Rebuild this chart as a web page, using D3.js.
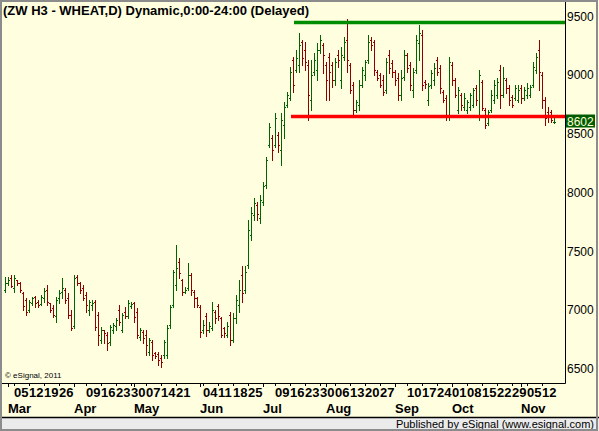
<!DOCTYPE html>
<html>
<head>
<meta charset="utf-8">
<script src="https://cdn.jsdelivr.net/npm/d3@7"></script>
<style>
  body { margin: 0; background: #fff; }
  svg text { font-family: "Liberation Sans", Arial, sans-serif; }
</style>
</head>
<body>
<svg id="chart"></svg>
<script>
// ZW H3 daily bars, Feb 29 .. Nov 16 (one entry per trading day)
const opens = [
  7168, 7228, 7270, 7185, 7253, 7228, 7143, 7083, 6998, 7057,
  7109, 7066, 7049, 7100, 7168, 7057, 7015, 6947, 7100, 7151,
  7168, 7100, 6955, 6862, 7279, 7228, 7185, 7126, 6998, 7040,
  7066, 6955, 6743, 6828, 6785, 6726, 6828, 6862, 6998, 6828,
  6981, 6947, 7032, 7057, 6981, 6768, 6811, 6785, 6640, 6726,
  6632, 6623, 6589, 6615, 6615, 6870, 7040, 7211, 7406, 7253,
  7151, 7185, 7296, 7151, 7100, 7023, 6828, 6947, 6828, 6845,
  6981, 7032, 6930, 6845, 6785, 6955, 6743, 6930, 7040, 7296,
  7168, 7381, 7636, 7806, 7891, 7781, 7917, 8062, 8402, 8462,
  8402, 8487, 8360, 8572, 8742, 8802, 9125, 9040, 9083, 9279,
  9211, 9083, 8785, 9023, 9040, 9211, 9253, 9083, 9151, 9083,
  8955, 9168, 8955, 9151, 9296, 9083, 8913, 8700, 8742, 8913,
  8998, 9125, 9296, 9279, 9023, 8998, 8955, 8870, 9168, 9100,
  9023, 8972, 8828, 8981, 9168, 9083, 8870, 9040, 9270, 9338,
  8938, 8785, 8913, 8955, 9125, 9057, 8853, 8802, 8657, 9083,
  8955, 8700, 8828, 8725, 8700, 8725, 8742, 8887, 8657, 8938,
  8700, 8589, 8700, 8785, 8828, 9040, 8828, 8955, 8887, 8811,
  8802, 8785, 8887, 8802, 8828, 8828, 8913, 9040, 9211, 8998,
  8785, 8683, 8683, 8598
];
const highs = [
  7279, 7279, 7296, 7296, 7253, 7236, 7151, 7100, 7083, 7109,
  7117, 7083, 7126, 7185, 7211, 7057, 7040, 7109, 7168, 7270,
  7185, 7143, 6998, 7296, 7296, 7236, 7211, 7151, 7083, 7083,
  7083, 6981, 6853, 6828, 6811, 6870, 6887, 6930, 7040, 6972,
  7023, 7083, 7066, 7066, 7015, 6845, 6828, 6828, 6760, 6743,
  6640, 6640, 6615, 6743, 6870, 7040, 7338, 7551, 7440, 7262,
  7194, 7398, 7313, 7168, 7109, 7040, 6913, 6972, 6896, 7066,
  6998, 7049, 6938, 6853, 6896, 6981, 6972, 7126, 7253, 7372,
  7372, 7764, 7874, 7951, 7917, 7977, 8087, 8300, 8589, 8487,
  8674, 8513, 8674, 8768, 8853, 9066, 9151, 9211, 9355, 9296,
  9279, 9125, 9125, 9185, 9270, 9338, 9270, 9108, 9185, 9108,
  9142, 9211, 9236, 9321, 9474, 9100, 8938, 8785, 8955, 9066,
  9125, 9338, 9321, 9296, 9040, 9015, 8998, 9142, 9211, 9125,
  9040, 9015, 9040, 9211, 9185, 9108, 9057, 9338, 9423, 9381,
  8955, 8930, 9040, 9100, 9151, 9083, 8870, 8828, 9151, 9108,
  8972, 8896, 8845, 8845, 8785, 8845, 8887, 8913, 9040, 8955,
  8717, 8700, 8870, 8955, 8972, 9083, 9066, 8972, 8913, 8828,
  8913, 8913, 8913, 8896, 8930, 8913, 9108, 9185, 9296, 9023,
  8811, 8725, 8700, 8640
];
const lows = [
  7151, 7211, 7194, 7151, 7211, 7151, 6998, 6955, 6981, 7040,
  7023, 7023, 7040, 7066, 7040, 6981, 6938, 6896, 7057, 7100,
  7057, 6930, 6828, 6845, 7211, 7143, 7083, 6981, 6955, 6998,
  6828, 6700, 6717, 6717, 6657, 6700, 6802, 6828, 6870, 6811,
  6930, 6930, 7015, 6896, 6760, 6743, 6717, 6615, 6615, 6572,
  6589, 6530, 6513, 6589, 6589, 6845, 7023, 7168, 7270, 7126,
  7143, 7168, 7126, 7023, 7023, 6768, 6802, 6777, 6811, 6828,
  6887, 6913, 6768, 6768, 6768, 6700, 6726, 6887, 6981, 7066,
  7143, 7355, 7594, 7764, 7764, 7738, 7891, 8036, 8385, 8274,
  8385, 8343, 8232, 8462, 8725, 8785, 8853, 9023, 9023, 9083,
  9040, 8615, 8700, 8998, 8955, 9185, 9015, 8785, 8785, 8896,
  8913, 9066, 8887, 9125, 9023, 8845, 8657, 8683, 8700, 8896,
  8955, 9100, 9211, 8998, 8955, 8896, 8828, 8845, 9015, 8981,
  8913, 8785, 8785, 8955, 9023, 8870, 8811, 9015, 9125, 8870,
  8887, 8742, 8887, 8913, 8998, 8845, 8768, 8615, 8615, 8913,
  8811, 8674, 8700, 8700, 8674, 8700, 8725, 8742, 8615, 8700,
  8547, 8572, 8683, 8759, 8802, 8717, 8811, 8845, 8742, 8725,
  8785, 8768, 8759, 8785, 8802, 8811, 8896, 9015, 8870, 8717,
  8572, 8598, 8598, 8589
];
const closes = [
  7228, 7253, 7202, 7270, 7228, 7168, 7032, 6981, 7066, 7100,
  7057, 7040, 7109, 7160, 7066, 6998, 6955, 7083, 7143, 7185,
  7083, 6955, 6845, 7270, 7228, 7168, 7100, 7040, 7066, 7057,
  6853, 6785, 6828, 6802, 6717, 6853, 6870, 6913, 6896, 6955,
  6947, 7057, 7049, 6938, 6785, 6828, 6760, 6700, 6743, 6615,
  6606, 6572, 6555, 6726, 6845, 7023, 7321, 7355, 7313, 7151,
  7168, 7296, 7168, 7100, 7040, 6811, 6870, 6828, 6862, 6998,
  6930, 6947, 6785, 6802, 6862, 6743, 6930, 7083, 7168, 7143,
  7321, 7679, 7823, 7908, 7815, 7934, 8053, 8274, 8555, 8360,
  8632, 8402, 8615, 8725, 8828, 9023, 8913, 9142, 9253, 9142,
  9108, 8828, 8998, 9125, 9211, 9296, 9168, 8955, 9023, 8955,
  9108, 9125, 9168, 9279, 9125, 8870, 8700, 8768, 8913, 9040,
  9108, 9279, 9253, 9040, 8972, 8913, 8853, 9108, 9057, 9023,
  8955, 8828, 8972, 9168, 9057, 8913, 9023, 9296, 9355, 8913,
  8921, 8904, 9015, 9057, 9023, 8887, 8785, 8657, 9108, 8955,
  8828, 8870, 8742, 8802, 8768, 8828, 8870, 8785, 8998, 8717,
  8572, 8683, 8828, 8913, 8938, 8828, 8972, 8887, 8785, 8742,
  8887, 8870, 8802, 8870, 8887, 8896, 9066, 9151, 9023, 8785,
  8632, 8657, 8615, 8602
];

// weekly date labels (day of month) and the bar they sit on
const weekLabels = ["05","12","19","26","09","16","23","30","07","14","21",
  "04","11","18","25","09","16","23","30","06","13","20","27",
  "10","17","24","01","08","15","22","29","05","12"];
const weekBars = [3, 8, 13, 18, 27, 32, 37, 42, 47, 52, 57,
  66, 71, 76, 81, 90, 95, 100, 105, 110, 115, 120, 125,
  134, 139, 144, 149, 154, 159, 164, 169, 174, 179];
const months = ["Mar", "Apr", "May", "Jun", "Jul", "Aug", "Sep", "Oct", "Nov"];
const monthBars = [1, 23, 43, 65, 86, 107, 130, 149, 172];

const priceTicks = [9500, 9000, 8500, 8000, 7500, 7000, 6500];
const resistance = 9445, resistanceFrom = 97;
const support = 8645, supportFrom = 96;
const lastPrice = 8602;

const width = 599, height = 431;
const plotRight = 565, axisY = 383;
const green = "#006400", red = "#900000";

const svg = d3.select("#chart").attr("width", width).attr("height", height);

const x = d3.scaleLinear().domain([0, closes.length - 1]).range([5, 554]);
const y = d3.scaleLinear().domain([6500, 9500]).range([368.5, 16]);

svg.append("rect").attr("width", width).attr("height", height).attr("fill", "#ffffe0");
svg.append("rect").attr("x", 0).attr("y", 417).attr("width", width).attr("height", 14).attr("fill", "#ebebeb");
svg.append("line").attr("x1", 0).attr("x2", width).attr("y1", 417.5).attr("y2", 417.5)
  .attr("stroke", "#000").attr("stroke-width", 1.3);

// title
svg.append("text").attr("x", 3).attr("y", 15)
  .attr("font-size", "13px").attr("font-weight", "bold")
  .text("(ZW H3 - WHEAT,D) Dynamic,0:00-24:00 (Delayed)");

// axes frame
svg.append("line").attr("x1", plotRight + 0.5).attr("x2", plotRight + 0.5).attr("y1", 2).attr("y2", axisY + 0.5)
  .attr("stroke", "#000");
svg.append("line").attr("x1", 2).attr("x2", plotRight + 0.5).attr("y1", axisY + 0.5).attr("y2", axisY + 0.5)
  .attr("stroke", "#000");

// price labels
svg.selectAll(".ylab").data(priceTicks).enter().append("text")
  .attr("class", "ylab")
  .attr("x", plotRight + 2).attr("y", d => y(d) + 4.5)
  .attr("font-size", "12px")
  .text(d => d);

// bars
const idx = d3.range(closes.length);
const bars = svg.append("g").attr("shape-rendering", "crispEdges");
const col = i => closes[i] >= opens[i] ? green : red;
const px = i => Math.round(x(i));
bars.selectAll(".hl").data(idx).enter().append("rect")
  .attr("x", i => px(i)).attr("width", 1)
  .attr("y", i => Math.round(y(highs[i])))
  .attr("height", i => Math.round(y(lows[i])) - Math.round(y(highs[i])) + 1)
  .attr("fill", col);
bars.selectAll(".op").data(idx).enter().append("rect")
  .attr("x", i => px(i) - 1).attr("width", 1)
  .attr("y", i => Math.round(y(opens[i]))).attr("height", 1)
  .attr("fill", col);
bars.selectAll(".cl").data(idx).enter().append("rect")
  .attr("x", i => px(i) + 1).attr("width", 1)
  .attr("y", i => Math.round(y(closes[i]))).attr("height", 1)
  .attr("fill", col);

// trend lines
svg.append("line").attr("x1", x(resistanceFrom) - 2).attr("x2", plotRight)
  .attr("y1", y(resistance)).attr("y2", y(resistance))
  .attr("stroke", "#008c00").attr("stroke-width", 3.5);
svg.append("line").attr("x1", x(supportFrom) - 2).attr("x2", plotRight)
  .attr("y1", y(support)).attr("y2", y(support))
  .attr("stroke", "#ff0000").attr("stroke-width", 3.5);

// last price marker
svg.append("rect").attr("x", plotRight + 1).attr("y", y(lastPrice) - 7)
  .attr("width", 29).attr("height", 13).attr("fill", "#005c00");
svg.append("text").attr("x", plotRight + 2).attr("y", y(lastPrice) + 4)
  .attr("font-size", "12px").attr("fill", "#ffffd8")
  .text(lastPrice);

// date axis
svg.selectAll(".wt").data(weekBars).enter().append("line")
  .attr("x1", d => px(d) + 0.5).attr("x2", d => px(d) + 0.5)
  .attr("y1", axisY).attr("y2", axisY + 3).attr("stroke", "#000");
svg.selectAll(".mt").data(monthBars).enter().append("line")
  .attr("x1", d => px(d) + 0.5).attr("x2", d => px(d) + 0.5)
  .attr("y1", axisY).attr("y2", axisY + 4).attr("stroke", "#000");
svg.selectAll(".wl").data(weekLabels).enter().append("text")
  .attr("x", (d, i) => px(weekBars[i])).attr("y", 397)
  .attr("font-size", "13px").attr("font-weight", "bold")
  .text(d => d);
svg.selectAll(".ml").data(months).enter().append("text")
  .attr("x", (d, i) => px(monthBars[i])).attr("y", 413)
  .attr("font-size", "13px").attr("font-weight", "bold")
  .text(d => d);

svg.append("text").attr("x", 5).attr("y", 378).attr("font-size", "8px")
  .text("\u00a9 eSignal, 2011");
svg.append("text").attr("x", 594).attr("y", 428).attr("text-anchor", "end")
  .attr("font-size", "11px").text("Published by eSignal (www.esignal.com)");

// outer border
svg.append("rect").attr("x", 1).attr("y", 1).attr("width", width - 3).attr("height", height - 2)
  .attr("fill", "none").attr("stroke", "#8c8c8c").attr("stroke-width", 2);
</script>
</body>
</html>
